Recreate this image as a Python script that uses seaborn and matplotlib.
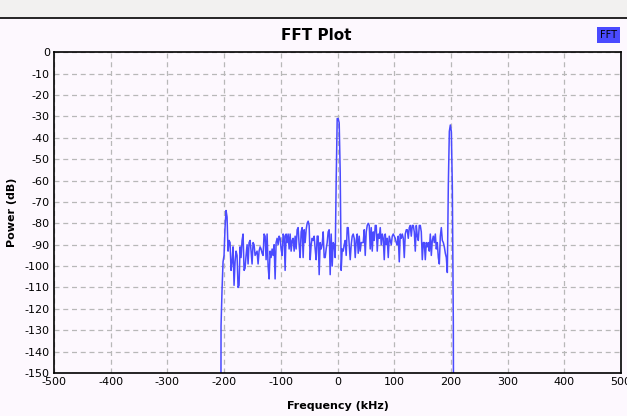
import numpy as np
import pandas as pd
import matplotlib
matplotlib.use("Agg")
import matplotlib.pyplot as plt
import seaborn as sns
from matplotlib.patches import Rectangle
from matplotlib.lines import Line2D

# ---- data ----
band_start_khz = -205.4
band_stop_khz = 204.3
floor_db = -200.0
power_band_db = [
    -128, -111, -98, -95, -82, -74, -77, -93, -88, -89,
    -102, -98, -91, -109, -98, -93, -95, -110, -109, -91,
    -96, -88, -85, -102, -101, -95, -90, -99, -89, -88,
    -93, -99, -89, -90, -95, -94, -93, -99, -93, -91,
    -92, -94, -95, -85, -86, -97,
    -85, -100, -106, -93, -96, -92, -95, -90, -106, -89,
    -87, -90, -86, -87, -92, -95, -85, -86, -102, -85,
    -89, -85, -92, -85, -93, -88, -87, -93, -86, -92,
    -83, -82, -90, -96, -84, -82, -96, -83, -89, -83,
    -80, -79, -81, -97, -90, -87, -88, -86, -92, -97,
    -86, -86,
    -104, -89, -92, -90, -84, -96, -96, -92, -89, -84,
    -83, -104, -85, -100, -89, -90, -96, -60, -31, -31,
    -33, -56, -102, -92, -93, -90, -88, -95, -82, -82,
    -90, -97, -90, -86, -85, -87, -96, -88, -85, -94,
    -86, -93, -89, -89, -89, -83, -95, -84, -81, -80,
    -81, -92, -82, -93, -84, -88, -81, -81, -93, -85,
    -87, -82, -90, -85, -87, -97, -85, -90, -87, -96,
    -86, -88, -90, -86, -85, -86, -87, -89, -90, -86,
    -98, -85, -87, -85, -87, -96, -85, -83, -83, -87,
    -82, -81, -86, -81, -81, -84, -93, -81, -86, -88,
    -81, -81, -84, -97, -89, -89, -97, -89, -91, -89,
    -93, -85, -95, -88, -86, -89, -85, -92, -89, -96,
    -99, -86, -82, -88, -89, -91, -94, -96, -103, -62,
    -37, -34, -37, -63, -128,
]
x_ticks = list(range(-500, 501, 100))
y_ticks = list(range(-150, 1, 10))

freq_band = np.linspace(band_start_khz, band_stop_khz, len(power_band_db))
freq = np.concatenate([[-500.0, band_start_khz - 0.4], freq_band,
                       [band_stop_khz + 0.6, 500.0]])
power = np.concatenate([[floor_db, floor_db], power_band_db, [floor_db, floor_db]])
df = pd.DataFrame({"freq": freq, "power": power})

# ---- style ----
bg = "#fdf8fe"
line_color = "#4a4aff"
sns.set_theme(style="white")
plt.rcParams["font.family"] = ["DejaVu Sans"]
plt.rcParams["axes.unicode_minus"] = False
plt.rcParams["text.color"] = "black"

W, H = 627, 416
fig = plt.figure(figsize=(W / 100, H / 100), dpi=100, facecolor=bg)
ax = fig.add_axes([54 / W, 1 - 373 / H, (621 - 54) / W, (373 - 52.3) / H])
ax.set_facecolor(bg)

# top bar of the window
fig.patches.append(Rectangle((0, 1 - 17 / H), 1, 17 / H, transform=fig.transFigure,
                             facecolor="#f2f1f0", edgecolor="none", zorder=0))
fig.lines.append(Line2D([0, 1], [1 - 17.5 / H, 1 - 17.5 / H], transform=fig.transFigure,
                        color="black", linewidth=1.2))

sns.lineplot(data=df, x="freq", y="power", ax=ax, color=line_color,
             linewidth=1.1, sort=False, estimator=None, legend=False)

ax.set_xlim(-500, 500)
ax.set_ylim(-150, 0)
ax.set_xticks(x_ticks)
ax.set_yticks(y_ticks)
ax.tick_params(axis="both", length=0, labelsize=8, colors="black", pad=3)
ax.grid(True, color="#b8b8b8", linestyle=(0, (4, 3)), linewidth=0.9)
for s in ax.spines.values():
    s.set_color("black")
    s.set_linewidth(1.2)

ax.set_xlabel("Frequency (kHz)", fontsize=8, fontweight="bold", color="black")
ax.set_ylabel("Power (dB)", fontsize=8, fontweight="bold", color="black")
ax.xaxis.set_label_coords((338 - 54) / (621 - 54), -(406 - 373) / (373 - 52.3))
ax.yaxis.set_label_coords(-(54 - 12) / (621 - 54), 0.5)
ax.xaxis.label.set_va("center")
ax.yaxis.label.set_va("center")

fig.text(316 / W, 1 - 35 / H, "FFT Plot", ha="center", va="center",
         fontsize=11, fontweight="bold", color="black")
fig.text(608.5 / W, 1 - 35 / H, "FFT", ha="center", va="center", fontsize=7,
         color="black",
         bbox=dict(boxstyle="square,pad=0.3", facecolor=line_color, edgecolor="none"))

fig.savefig("out.png", dpi=100, facecolor=bg)
